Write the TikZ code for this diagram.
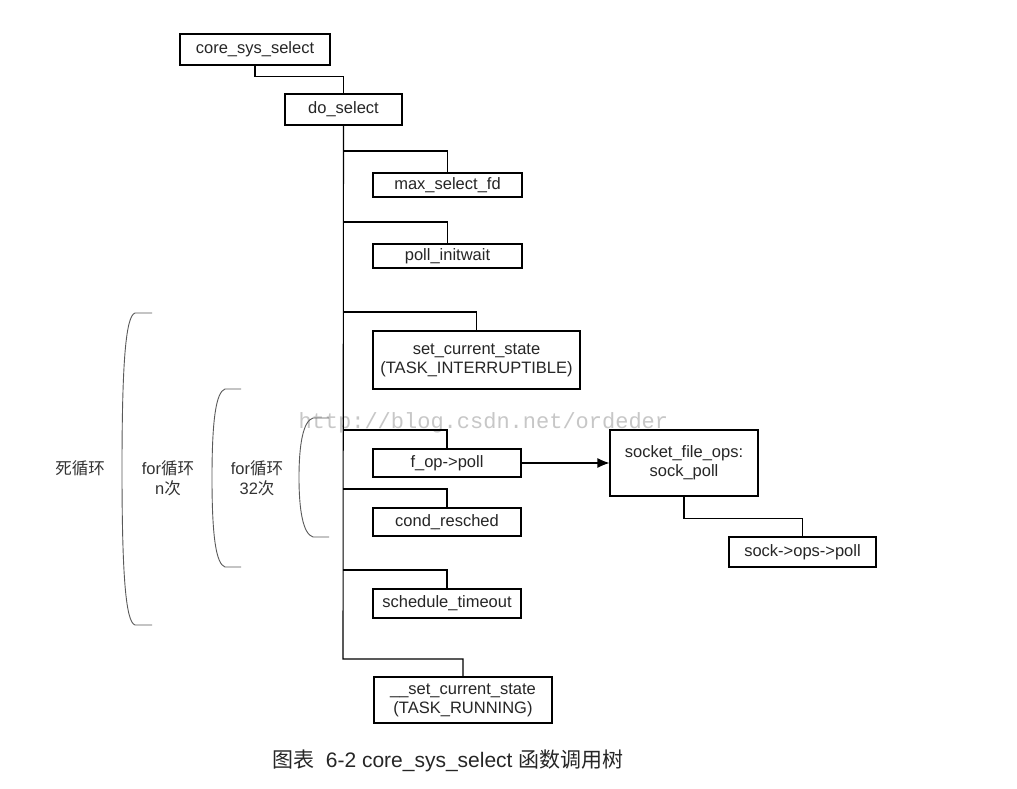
\documentclass[tikz,border=0pt]{standalone}
\usepackage{fontspec}
\setmainfont{Liberation Sans}
\newfontfamily\cjk{Noto Sans CJK SC}
\newfontfamily\wmfont{Liberation Mono}
\usetikzlibrary{arrows.meta}
\begin{document}
\begin{tikzpicture}[x=1pt,y=-1pt,
  fn/.style={draw=black,line width=1.1pt,inner sep=0pt,align=center,
    font=\fontsize{16.5}{19}\selectfont,text=black!85},
  link/.style={draw=black,line width=1.1pt},
  brk/.style={draw=black!65,line width=0.9pt},
  lbl/.style={align=center,font=\fontsize{16.5}{20}\selectfont,text=black!80},
  wm/.style={font=\wmfont\fontsize{22}{22}\selectfont,text=black!22}]
\useasboundingbox[fill=white] (0,0) rectangle (1017,789);

% watermark
\node[wm,anchor=west] (wm1) at (295,423) {http://blog.csdn.net/ordeder};

% boxes
\node[fn,minimum width=150,minimum height=31] (core) at (255,49.5) {core\_sys\_select};
\node[fn,minimum width=117,minimum height=31] (dosel) at (343.5,109.5) {do\_select};
\node[fn,minimum width=149,minimum height=24] (maxfd) at (447.5,185) {max\_select\_fd};
\node[fn,minimum width=149,minimum height=24] (pinit) at (447.5,256) {poll\_initwait};
\node[fn,minimum width=207,minimum height=58] (setcur) at (476.5,360) {set\_current\_state\\(TASK\_INTERRUPTIBLE)};
\node[fn,minimum width=148,minimum height=28] (fop) at (447,463) {f\_op->poll};
\node[fn,minimum width=148,minimum height=28] (cond) at (447,522) {cond\_resched};
\node[fn,minimum width=148,minimum height=29] (sched) at (447,603.5) {schedule\_timeout};
\node[fn,minimum width=178,minimum height=46] (setrun) at (463,700) {\_\_set\_current\_state\\(TASK\_RUNNING)};
\node[fn,minimum width=148,minimum height=66] (sock) at (684,463) {socket\_file\_ops:\\sock\_poll};
\node[fn,minimum width=147,minimum height=30] (sops) at (802.5,552) {sock->ops->poll};

% spine coordinates
\coordinate (b1) at (343,151);
\coordinate (b2) at (343,222);
\coordinate (b3) at (343,312);
\coordinate (b4) at (343,430);
\coordinate (b5) at (343,489);
\coordinate (b6) at (343,570);
\coordinate (b7) at (343,659);

% connectors
\draw[link] (core.south) -- ++(0,11) -| (dosel.north);
\draw[link] (dosel.south) -- (b7) -| (setrun.north);
\draw[link] (b1) -| (maxfd.north);
\draw[link] (b2) -| (pinit.north);
\draw[link] (b3) -| (setcur.north);
\draw[link] (b4) -| (fop.north);
\draw[link] (b5) -| (cond.north);
\draw[link] (b6) -| (sched.north);
\draw[link,-{Latex[length=12pt,width=10pt]}] (fop.east) -- (sock.west);
\draw[link] (sock.south) -- ++(0,22) -| (sops.north);

% brackets
\draw[brk] (152,313) -- (135,313) .. controls (126,316) and (122,360) .. (122,469)
  .. controls (122,578) and (126,622) .. (135,625) -- (152,625);
\draw[brk] (241,389) -- (225,389) .. controls (216,392) and (212,420) .. (212,478)
  .. controls (212,536) and (216,564) .. (225,567) -- (241,567);
\draw[brk] (329,418) -- (313,418) .. controls (303,421) and (299,445) .. (299,477.5)
  .. controls (299,510) and (303,534) .. (313,537) -- (329,537);

% bracket labels
\node[lbl] (l1) at (80,468) {\cjk 死循环};
\node[lbl] (l2) at (168,478) {for{\cjk 循环}\\n{\cjk 次}};
\node[lbl] (l3) at (257,478) {for{\cjk 循环}\\32{\cjk 次}};

% caption
\node[anchor=west,inner sep=0pt,text=black!85,font=\fontsize{21}{24}\selectfont] (cap) at (272,761)
  {{\cjk 图表}\ \ 6-2 core\_sys\_select {\cjk 函数调用树}};
\end{tikzpicture}
\end{document}
